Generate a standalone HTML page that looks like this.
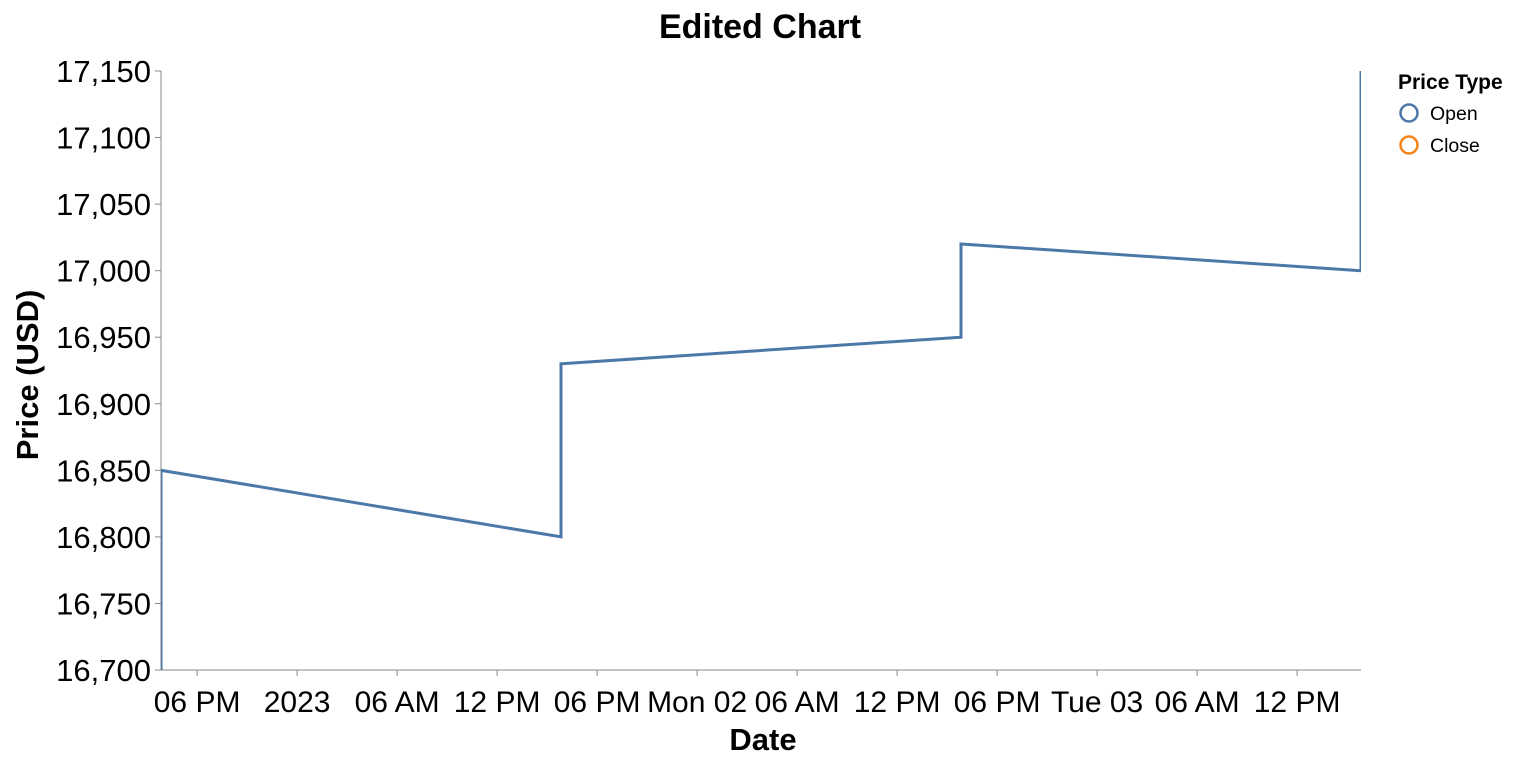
<!DOCTYPE html>
<html><head><meta charset="utf-8"><style>
body{margin:0;background:#fff;font-family:"Liberation Sans",Arial,sans-serif}
svg text{font-family:"Liberation Sans",Arial,sans-serif}
</style></head><body>
<svg id="chart" width="1518" height="766"></svg>
<script>
const xTicks = ["06 PM","2023","06 AM","12 PM","06 PM","Mon 02","06 AM","12 PM","06 PM","Tue 03","06 AM","12 PM"];
const yTicks = [16700,16750,16800,16850,16900,16950,17000,17050,17100,17150];
// time in hours since domain start (Dec 31 15:50)
const times = [0,0,24,24,48,48,72,72];
const prices = [16600,16850,16800,16930,16950,17020,17000,17300];
const X0=161,X1=1361,Y0=670,Y1=71,TMAX=72,VMIN=16700,VMAX=17150;
const xs=t=>X0+(X1-X0)*t/TMAX;
const ys=v=>Y0-(Y0-Y1)*(v-VMIN)/(VMAX-VMIN);
const NS="http://www.w3.org/2000/svg";
const svg=document.getElementById('chart');
function mk(tag,attrs,parent,txt){const e=document.createElementNS(NS,tag);for(const k in attrs)e.setAttribute(k,attrs[k]);if(txt!==undefined)e.textContent=txt;(parent||svg).appendChild(e);return e;}
let g;
g=mk('text',{x:760,y:38,'text-anchor':'middle','font-size':34,'font-weight':'bold',fill:'#000'},svg,'Edited Chart');


const ya=mk('g',{});


mk('line',{x1:X0,x2:X0,y1:Y1,y2:Y0,stroke:'#888'},ya);
yTicks.forEach(v=>{const y=ys(v);
mk('line',{x1:X0-6,x2:X0,y1:y,y2:y,stroke:'#888'},ya);
const t=mk('text',{x:X0-10,y:y+11,'text-anchor':'end','font-size':31,fill:'#000'},ya,v.toLocaleString('en-US'));

});
g=mk('text',{transform:'translate(38,375) rotate(-90)','text-anchor':'middle','font-size':31,'font-weight':'bold'},svg,'Price (USD)');


const xa=mk('g',{});


mk('line',{x1:X0,x2:X1,y1:Y0,y2:Y0,stroke:'#888'},xa);
xTicks.forEach((s,i)=>{const x=xs(2.1667+6*i);
mk('line',{x1:x,x2:x,y1:Y0,y2:Y0+6,stroke:'#888'},xa);
const t=mk('text',{x:x,y:Y0+42,'text-anchor':'middle','font-size':30,fill:'#000'},xa,s);

});
g=mk('text',{x:763,y:750,'text-anchor':'middle','font-size':31,'font-weight':'bold'},svg,'Date');


const defs=mk('defs',{});const cp=mk('clipPath',{id:'cp'},defs);mk('rect',{x:X0,y:Y1,width:X1-X0,height:Y0-Y1},cp);
const d=times.map((t,i)=>(i?'L':'M')+xs(t).toFixed(1)+','+ys(prices[i]).toFixed(1)).join('');
g=mk('path',{d:d,fill:'none',stroke:'#4c78a8','stroke-width':3,'clip-path':'url(#cp)'});


const lg=mk('g',{});


mk('text',{x:1398,y:89,'font-size':21,'font-weight':'bold'},lg,'Price Type');
[['Open','#4c78a8',113],['Close','#f58518',145]].forEach(([n,c,y])=>{
const e=mk('g',{},lg);


mk('circle',{cx:1409,cy:y,r:8.5,fill:'none',stroke:c,'stroke-width':2.5},e);
mk('text',{x:1430,y:y+7,'font-size':19.5},e,n);});
</script>
</body></html>
